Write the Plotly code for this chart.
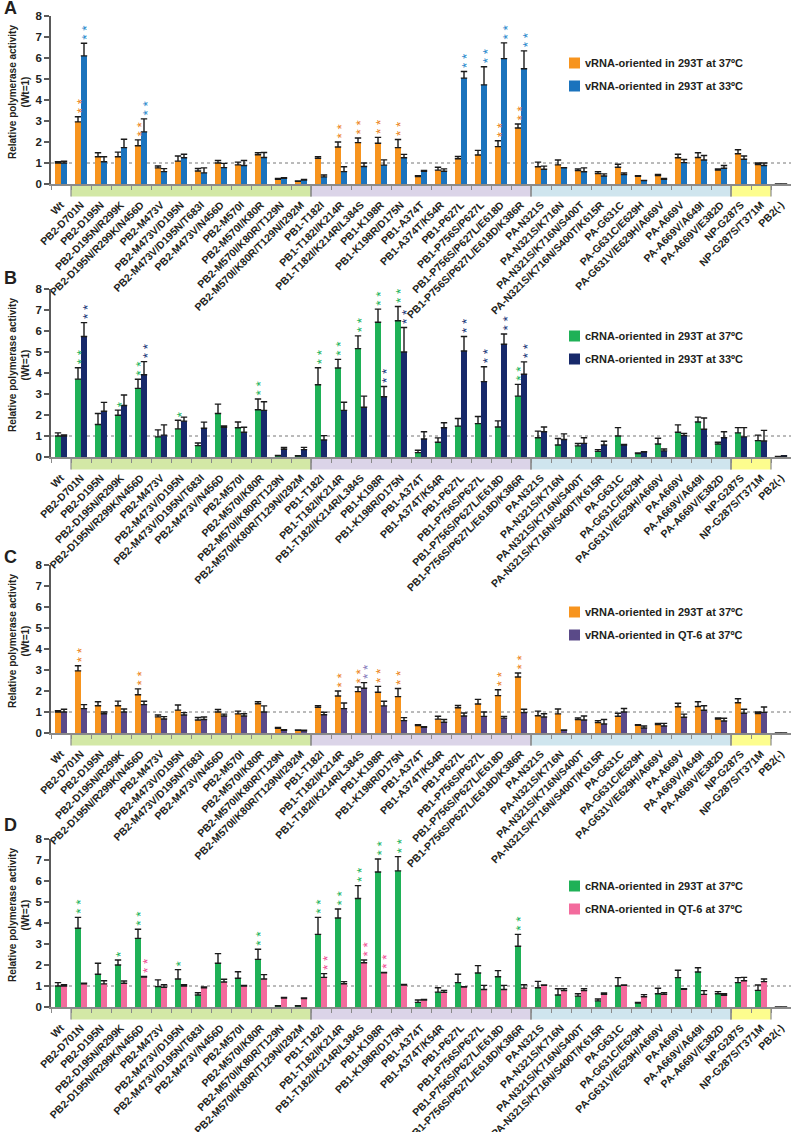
import plotly.graph_objects as go

categories = ["Wt", "PB2-D701N", "PB2-D195N", "PB2-D195N/R299K", "PB2-D195N/R299K/N456D",
              "PB2-M473V", "PB2-M473V/D195N", "PB2-M473V/D195N/T683I", "PB2-M473V/N456D",
              "PB2-M570I", "PB2-M570I/K80R", "PB2-M570I/K80R/T129N", "PB2-M570I/K80R/T129N/I292M",
              "PB1-T182I", "PB1-T182I/K214R", "PB1-T182I/K214R/L384S", "PB1-K198R", "PB1-K198R/D175N",
              "PB1-A374T", "PB1-A374T/K54R", "PB1-P627L", "PB1-P756S/P627L", "PB1-P756S/P627L/E618D",
              "PB1-P756S/P627L/E618D/K386R", "PA-N321S", "PA-N321S/K716N", "PA-N321S/K716N/S400T",
              "PA-N321S/K716N/S400T/K615R", "PA-G631C", "PA-G631C/E629H", "PA-G631V/E629H/A669V",
              "PA-A669V", "PA-A669V/A649I", "PA-A669V/E382D", "NP-G287S", "NP-G287S/T371M", "PB2(-)"]

# vRNA-oriented in 293T at 37ºC (panels A and C)
vrna_293t_37 = [1.00, 2.96, 1.30, 1.30, 1.82, 0.77, 1.09, 0.62, 1.00, 0.91, 1.39, 0.22, 0.13,
                1.22, 1.76, 1.97, 1.94, 1.73, 0.35, 0.66, 1.20, 1.38, 1.78, 2.67,
                0.82, 0.91, 0.64, 0.50, 0.80, 0.37, 0.40, 1.25, 1.26, 0.67, 1.44, 0.93, 0.0]
vrna_293t_37_err = [0.06, 0.24, 0.19, 0.22, 0.28, 0.09, 0.24, 0.12, 0.12, 0.13, 0.10, 0.05, 0.02,
                    0.08, 0.24, 0.22, 0.28, 0.39, 0.05, 0.14, 0.11, 0.22, 0.28, 0.19,
                    0.22, 0.23, 0.08, 0.09, 0.14, 0.03, 0.05, 0.17, 0.23, 0.05, 0.19, 0.07, None]
vrna_293t_37_stars = [0, 2, 0, 0, 2, 0, 0, 0, 0, 0, 0, 0, 0, 0, 2, 2, 2, 2, 0, 0, 0, 0, 2, 2,
                      0, 0, 0, 0, 0, 0, 0, 0, 0, 0, 0, 0, 0]

# vRNA-oriented in 293T at 33ºC (panel A)
vrna_293t_33 = [1.00, 6.10, 1.06, 1.73, 2.48, 0.59, 1.25, 0.53, 0.78, 0.88, 1.26, 0.27, 0.19,
                0.34, 0.59, 0.83, 0.90, 1.25, 0.61, 0.61, 5.04, 4.72, 5.97, 5.49,
                0.70, 0.77, 0.58, 0.38, 0.45, 0.16, 0.22, 1.02, 1.14, 0.75, 1.18, 0.88, 0.0]
vrna_293t_33_err = [0.08, 0.60, 0.24, 0.40, 0.62, 0.14, 0.17, 0.24, 0.20, 0.24, 0.24, 0.03, 0.03,
                    0.09, 0.23, 0.17, 0.25, 0.16, 0.03, 0.11, 0.32, 0.86, 0.75, 0.85,
                    0.15, 0.01, 0.19, 0.10, 0.08, 0.01, 0.04, 0.15, 0.22, 0.13, 0.15, 0.12, None]
vrna_293t_33_stars = [0, 2, 0, 0, 2, 0, 0, 0, 0, 0, 0, 0, 0, 0, 0, 0, 0, 0, 0, 0, 2, 2, 2, 2,
                      0, 0, 0, 0, 0, 0, 0, 0, 0, 0, 0, 0, 0]

# cRNA-oriented in 293T at 37ºC (panel B)
crna_293t_37 = [1.00, 3.71, 1.55, 1.99, 3.27, 0.96, 1.34, 0.54, 2.07, 1.39, 2.25, 0.06, 0.05,
                3.44, 4.24, 5.16, 6.42, 6.49, 0.21, 0.70, 1.47, 1.59, 1.43, 2.90,
                0.92, 0.57, 0.53, 0.27, 1.00, 0.16, 0.62, 1.18, 1.67, 0.62, 1.15, 0.78, 0.03]
crna_293t_37_err = [0.15, 0.54, 0.52, 0.24, 0.43, 0.33, 0.41, 0.13, 0.45, 0.28, 0.51, 0.01, 0.01,
                    0.81, 0.41, 0.61, 0.62, 0.68, 0.11, 0.21, 0.36, 0.34, 0.29, 0.56,
                    0.31, 0.31, 0.11, 0.08, 0.40, 0.03, 0.27, 0.35, 0.23, 0.08, 0.25, 0.26, None]
crna_293t_37_stars = [0, 2, 0, 1, 2, 0, 1, 0, 0, 0, 2, 0, 0, 2, 2, 2, 2, 2, 0, 0, 0, 0, 0, 2,
                      0, 0, 0, 0, 0, 0, 0, 0, 0, 0, 0, 0, 0]

# cRNA-oriented in 293T at 33ºC (panel B)
crna_293t_33 = [1.00, 5.74, 2.18, 2.45, 3.92, 1.04, 1.71, 1.37, 1.42, 1.18, 2.22, 0.37, 0.35,
                0.81, 2.22, 2.37, 2.87, 5.00, 0.86, 1.39, 5.05, 3.59, 5.37, 3.94,
                1.20, 0.83, 0.65, 0.57, 0.57, 0.24, 0.29, 1.02, 1.32, 0.92, 0.96, 0.76, 0.05]
crna_293t_33_err = [0.05, 0.66, 0.42, 0.50, 0.62, 0.49, 0.19, 0.29, 0.06, 0.24, 0.41, 0.08, 0.11,
                    0.21, 0.39, 0.53, 0.49, 1.17, 0.34, 0.24, 0.69, 0.71, 0.49, 0.59,
                    0.23, 0.27, 0.27, 0.18, 0.03, 0.01, 0.09, 0.10, 0.54, 0.28, 0.44, 0.51, None]
crna_293t_33_stars = [0, 2, 0, 0, 2, 0, 0, 0, 0, 0, 0, 0, 0, 0, 0, 0, 2, 2, 0, 0, 2, 2, 2, 2,
                      0, 0, 0, 0, 0, 0, 0, 0, 0, 0, 0, 0, 0]

# vRNA-oriented in QT-6 at 37ºC (panel C)
vrna_qt6_37 = [1.00, 1.16, 0.92, 1.00, 1.35, 0.67, 0.86, 0.64, 0.81, 0.81, 1.00, 0.13, 0.11,
               0.87, 1.16, 2.13, 1.29, 0.59, 0.27, 0.51, 0.81, 0.79, 0.71, 0.97,
               0.76, 0.13, 0.62, 0.43, 1.00, 0.24, 0.33, 0.75, 1.08, 0.57, 0.94, 0.98, 0.0]
vrna_qt6_37_err = [0.13, 0.19, 0.08, 0.14, 0.16, 0.11, 0.11, 0.12, 0.09, 0.11, 0.29, 0.03, 0.02,
                   0.12, 0.27, 0.27, 0.22, 0.14, 0.03, 0.13, 0.14, 0.21, 0.08, 0.16,
                   0.16, 0.01, 0.19, 0.21, 0.17, 0.09, 0.13, 0.15, 0.22, 0.13, 0.19, 0.26, None]
vrna_qt6_37_stars = [0, 0, 0, 0, 0, 0, 0, 0, 0, 0, 0, 0, 0, 0, 0, 2, 0, 0, 0, 0, 0, 0, 0, 0,
                     0, 0, 0, 0, 0, 0, 0, 0, 0, 0, 0, 0, 0]

# cRNA-oriented in 293T at 37ºC (panel D)
crna_293t_37_d = [1.00, 3.75, 1.56, 2.00, 3.27, 0.97, 1.33, 0.57, 2.08, 1.37, 2.27, 0.05, 0.05,
                  3.46, 4.24, 5.17, 6.43, 6.48, 0.22, 0.71, 1.16, 1.62, 1.44, 2.89,
                  0.92, 0.57, 0.52, 0.29, 1.00, 0.19, 0.63, 1.40, 1.67, 0.63, 1.16, 0.79, 0.0]
crna_293t_37_d_err = [0.16, 0.52, 0.52, 0.24, 0.43, 0.32, 0.45, 0.11, 0.46, 0.31, 0.48, 0.01, 0.01,
                      0.81, 0.43, 0.61, 0.62, 0.68, 0.11, 0.21, 0.40, 0.35, 0.29, 0.57,
                      0.30, 0.30, 0.11, 0.09, 0.40, 0.03, 0.26, 0.35, 0.20, 0.10, 0.24, 0.26, None]

# cRNA-oriented in QT-6 at 37ºC (panel D)
crna_qt6_37 = [1.00, 1.10, 1.10, 1.13, 1.43, 0.94, 1.00, 0.92, 1.19, 1.00, 1.33, 0.43, 0.40,
               1.41, 1.11, 2.11, 1.63, 1.05, 0.33, 0.70, 0.95, 0.83, 0.83, 0.90,
               1.03, 0.78, 0.78, 0.60, 1.03, 0.49, 0.60, 0.84, 0.60, 0.56, 1.25, 1.21, 0.0]
crna_qt6_37_err = [0.06, 0.03, 0.15, 0.11, 0.02, 0.12, 0.06, 0.03, 0.13, 0.03, 0.21, 0.02, 0.03,
                   0.18, 0.10, 0.13, 0.02, 0.02, 0.03, 0.09, 0.02, 0.20, 0.20, 0.16,
                   0.02, 0.09, 0.09, 0.07, 0.02, 0.10, 0.08, 0.03, 0.18, 0.07, 0.16, 0.12, None]
crna_qt6_37_stars = [0, 0, 0, 0, 2, 0, 0, 0, 0, 0, 0, 0, 0, 2, 0, 2, 2, 0, 0, 0, 0, 0, 0, 0,
                     0, 0, 0, 0, 0, 0, 0, 0, 0, 0, 0, 0, 0]

# protein groups shown as coloured bands under the x axis: (first category, last category, colour)
band_groups = [("PB2-D701N", "PB2-M570I/K80R/T129N/I292M", "#d3e8a6"),
               ("PB1-T182I", "PB1-P756S/P627L/E618D/K386R", "#dbd4e8"),
               ("PA-N321S", "PA-A669V/E382D", "#cfe5ee"),
               ("NP-G287S", "NP-G287S/T371M", "#fdfd8e")]

ORANGE, ORANGE_S = "#f7941e", "#ec8422"
BLUE, BLUE_S = "#1b73bd", "#2a88cc"
GREEN, GREEN_S = "#1fb157", "#22b35c"
NAVY, NAVY_S = "#17296a", "#1d3578"
PURPLE, PURPLE_S = "#5a4a88", "#8a7cbc"
PINK, PINK_S = "#f36b9d", "#ee4f93"

panels = [
    dict(letter="A", top=16, letter_y=1, series=[
        ("vRNA-oriented in 293T at 37ºC", vrna_293t_37, vrna_293t_37_err, vrna_293t_37_stars, ORANGE, ORANGE_S),
        ("vRNA-oriented in 293T at 33ºC", vrna_293t_33, vrna_293t_33_err, vrna_293t_33_stars, BLUE, BLUE_S)]),
    dict(letter="B", top=289, letter_y=271, series=[
        ("cRNA-oriented in 293T at 37ºC", crna_293t_37, crna_293t_37_err, crna_293t_37_stars, GREEN, GREEN_S),
        ("cRNA-oriented in 293T at 33ºC", crna_293t_33, crna_293t_33_err, crna_293t_33_stars, NAVY, NAVY_S)]),
    dict(letter="C", top=565, letter_y=550, series=[
        ("vRNA-oriented in 293T at 37ºC", vrna_293t_37, vrna_293t_37_err, vrna_293t_37_stars, ORANGE, ORANGE_S),
        ("vRNA-oriented in QT-6 at 37ºC", vrna_qt6_37, vrna_qt6_37_err, vrna_qt6_37_stars, PURPLE, PURPLE_S)]),
    dict(letter="D", top=839, letter_y=818, series=[
        ("cRNA-oriented in 293T at 37ºC", crna_293t_37_d, crna_293t_37_d_err, crna_293t_37_stars, GREEN, GREEN_S),
        ("cRNA-oriented in QT-6 at 37ºC", crna_qt6_37, crna_qt6_37_err, crna_qt6_37_stars, PINK, PINK_S)]),
]

W, H = 792, 1132
PLOT_H = 168
X0, X1 = 51, 791
FONT = "Liberation Sans, Arial, sans-serif"
TXT = "#231f20"


def px(x):
    return x / W


def py(y):
    return 1 - y / H


fig = go.Figure()
shapes, annotations = [], []
layout = {}
n = len(categories)

for i, p in enumerate(panels, start=1):
    xa = "x" if i == 1 else f"x{i}"
    ya = "y" if i == 1 else f"y{i}"
    top, bot = p["top"], p["top"] + PLOT_H
    for k, (name, vals, errs, stars, col, scol) in enumerate(p["series"]):
        fig.add_trace(go.Bar(
            x=categories, y=vals, name=name, xaxis=xa, yaxis=ya, showlegend=False,
            marker=dict(color=col, line=dict(width=0)),
            error_y=dict(type="data", array=errs, arrayminus=[0] * n, symmetric=False,
                         color="#1a1a1a", thickness=1.4, width=3.2),
        ))
        shift = -3 if k == 0 else 3
        for j, cnt in enumerate(stars):
            if cnt:
                # significance asterisks stacked vertically (rotated text)
                annotations.append(dict(
                    x=categories[j], y=vals[j] + (errs[j] or 0), xref=xa, yref=ya,
                    text=" ".join(["*"] * cnt), textangle=-90,
                    showarrow=False, xshift=shift + 3, yshift=2, yanchor="bottom",
                    xanchor="center", font=dict(family=FONT, size=13.5, color=scol), borderpad=0))
        # manual legend entry
        ly = top + 47 + 23 * k
        shapes.append(dict(type="rect", xref="paper", yref="paper", x0=px(569), x1=px(580),
                           y0=py(ly - 5.5), y1=py(ly + 5.5), fillcolor=col, line=dict(width=0)))
        annotations.append(dict(x=px(584), y=py(ly), xref="paper", yref="paper", text=name,
                                showarrow=False, xanchor="left", yanchor="middle", borderpad=0,
                                font=dict(family=FONT, size=11, color=TXT, weight="bold")))

    layout["xaxis" if i == 1 else f"xaxis{i}"] = dict(
        domain=[px(X0), px(X1)], anchor=ya, type="category", categoryorder="array",
        categoryarray=categories, range=[-0.5, n - 0.5], showline=True, linecolor="#8a8a8a",
        linewidth=1.5, ticks="outside", tickson="boundaries", ticklen=4, tickcolor="#8a8a8a",
        tickwidth=1, tickangle=-45, showgrid=False, zeroline=False, ticklabelstandoff=9,
        automargin=False,
        tickfont=dict(family=FONT, size=10.5, color=TXT, weight="bold"))
    layout["yaxis" if i == 1 else f"yaxis{i}"] = dict(
        domain=[py(bot), py(top)], anchor=xa, range=[0, 8], dtick=1, showline=True,
        linecolor="#5a5a5a", linewidth=1.5, ticks="outside", ticklen=5, tickwidth=1.5,
        tickcolor="#5a5a5a", showgrid=False, zeroline=False, automargin=False,
        tickfont=dict(family=FONT, size=11.5, color=TXT, weight="bold"))

    # reference line at Wt = 1
    shapes.append(dict(type="line", xref=f"{xa} domain", yref=ya, x0=0, x1=1, y0=1, y1=1,
                       line=dict(color="#777777", width=1, dash="dot"), layer="below"))
    # protein bands under the axis
    for (c0, c1, bcol) in band_groups:
        a, b = categories.index(c0) - 0.5, categories.index(c1) + 0.5
        shapes.append(dict(type="rect", xref=xa, yref=f"{ya} domain", x0=a, x1=b,
                           y0=-12.5 / PLOT_H, y1=0, fillcolor=bcol, line=dict(width=0),
                           layer="below"))
        for xv in (a, b):
            shapes.append(dict(type="line", xref=xa, yref=f"{ya} domain", x0=xv, x1=xv,
                               y0=-12.5 / PLOT_H, y1=0, line=dict(color="#8a8a8a", width=1.2)))
    # y title and panel letter
    annotations.append(dict(x=px(19), y=py(top + 76), xref="paper", yref="paper",
                            text="Relative polymerase activity<br>(Wt=1)", textangle=-90,
                            showarrow=False, xanchor="center", yanchor="middle",
                            font=dict(family=FONT, size=10, color=TXT, weight="bold")))
    annotations.append(dict(x=px(2), y=py(p["letter_y"] - 5), xref="paper", yref="paper",
                            text=p["letter"], showarrow=False, xanchor="left", yanchor="top",
                            font=dict(family=FONT, size=18, color=TXT, weight="bold")))

fig.update_layout(
    width=W, height=H, margin=dict(l=0, r=0, t=0, b=0, autoexpand=False),
    paper_bgcolor="white", plot_bgcolor="white", barmode="group", bargap=0.4, bargroupgap=0,
    shapes=shapes, annotations=annotations, font=dict(family=FONT, color=TXT),
    **layout)

fig.write_html("out.html", config={"displayModeBar": False},
               post_script="document.body.style.margin='0';")
